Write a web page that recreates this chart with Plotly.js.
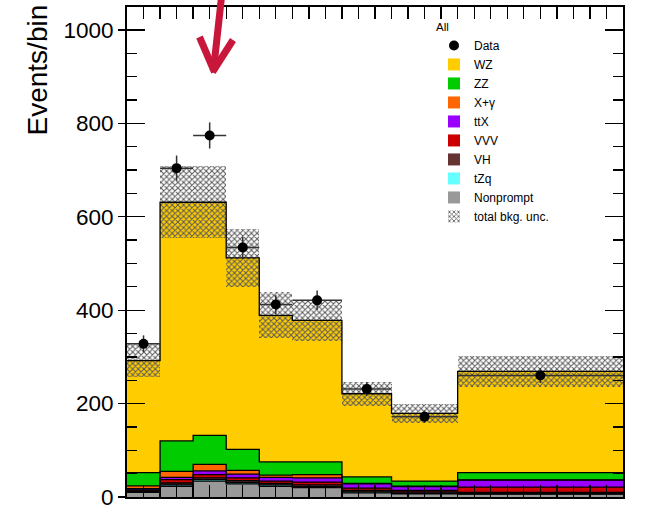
<!DOCTYPE html>
<html>
<head>
<meta charset="utf-8">
<script src="https://cdn.plot.ly/plotly-3.0.1.min.js"></script>
<style>
html,body{margin:0;padding:0;background:#fff;}
#chart{width:651px;height:516px;}
</style>
</head>
<body>
<div id="chart"></div>
<script>
// ---- data ----
const binEdges  = [0, 20, 40, 60, 80, 100, 130, 160, 200, 300];
const nonprompt = [10, 23, 34, 28, 23, 20, 9, 7, 6];
const tZq       = [1, 3, 3, 3, 3, 2, 2, 1, 1];
const VH        = [2, 4, 4, 4, 3, 4, 3, 3, 3];
const VVV       = [2, 7, 7, 6, 5, 6, 5, 3, 11];
const ttX       = [3, 5, 8, 8, 8, 9, 9, 8, 15];
const Xgamma    = [6, 13, 14, 8, 5, 7, 1, 1, 0.5];
const ZZ        = [28, 65, 62, 45, 28, 27, 14, 11, 15.5];
const WZ        = [240, 511, 499, 410, 314, 303, 178, 145, 217];
const dataY     = [328, 704, 774, 534, 412, 421, 231, 172, 260];
const dataErr   = [18, 27, 28, 23, 20, 21, 15, 13, 16];
const bkgUnc    = [36, 77, 77, 62, 49, 44, 26, 21, 33];

// stack from bottom to top
const components = [
  {name: 'Nonprompt', vals: nonprompt, color: '#999999', rank: 9},
  {name: 'tZq',       vals: tZq,       color: '#66ffff', rank: 8},
  {name: 'VH',        vals: VH,        color: '#663333', rank: 7},
  {name: 'VVV',       vals: VVV,       color: '#cc0000', rank: 6},
  {name: 'ttX',       vals: ttX,       color: '#9900ff', rank: 5},
  {name: 'X+\u03b3',  vals: Xgamma,    color: '#ff6600', rank: 4},
  {name: 'ZZ',        vals: ZZ,        color: '#00cc00', rank: 3},
  {name: 'WZ',        vals: WZ,        color: '#ffcc00', rank: 2}
];

const centers = [], widths = [];
for (let i = 0; i < binEdges.length - 1; i++) {
  centers.push((binEdges[i] + binEdges[i + 1]) / 2);
  widths.push(binEdges[i + 1] - binEdges[i]);
}
const halfW = widths.map(w => w / 2);

const traces = [];
const cum = new Array(centers.length).fill(0);
const stepTraces = [];
components.forEach(c => {
  traces.push({
    type: 'bar', x: centers, y: c.vals, width: widths, name: c.name,
    marker: {color: c.color, line: {width: 0}}, legendrank: c.rank,
    hoverinfo: 'skip'
  });
  for (let i = 0; i < cum.length; i++) cum[i] += c.vals[i];
  const ys = cum.slice(); ys.push(cum[cum.length - 1]);
  stepTraces.push({
    type: 'scatter', mode: 'lines', x: binEdges, y: ys,
    line: {shape: 'hv', color: '#000', width: 1.3},
    showlegend: false, hoverinfo: 'skip'
  });
});
const total = cum.slice();

traces.push({
  type: 'bar', x: centers, width: widths,
  base: total.map((t, i) => t - bkgUnc[i]),
  y: bkgUnc.map(u => 2 * u),
  name: 'total bkg. unc.', legendrank: 10,
  marker: {color: 'rgba(0,0,0,0)', line: {width: 0},
           pattern: {shape: 'x', fgcolor: '#5a5a5a', bgcolor: 'rgba(0,0,0,0)', size: 4, solidity: 0.45}},
  hoverinfo: 'skip'
});
stepTraces.forEach(t => traces.push(t));
traces.push({
  type: 'scatter', mode: 'markers', x: centers, y: dataY, name: 'Data', legendrank: 1,
  marker: {color: '#000', size: 10},
  error_y: {type: 'data', array: dataErr, visible: true, color: '#333', thickness: 1.5, width: 0},
  error_x: {type: 'data', array: halfW, visible: true, color: '#333', thickness: 1.5, width: 0}
});

// arrow (paper coordinates of the plot area: x 127..623, y 7..497)
const px = v => (v - 127) / 496;
const py = v => (497 - v) / 490;
const arrowColor = '#c8173a';
const shapes = [
  {type: 'line', xref: 'paper', yref: 'paper', x0: px(221.5), y0: py(-3), x1: px(213.5), y1: py(70), line: {color: arrowColor, width: 7}},
  {type: 'line', xref: 'paper', yref: 'paper', x0: px(199.5), y0: py(37), x1: px(214.5), y1: py(72), line: {color: arrowColor, width: 7}},
  {type: 'line', xref: 'paper', yref: 'paper', x0: px(233), y0: py(40), x1: px(212.5), y1: py(72), line: {color: arrowColor, width: 7}}
];

const font = 'Liberation Sans, Arial, Helvetica, sans-serif';
const layout = {
  width: 651, height: 516,
  margin: {l: 127, r: 28, t: 7, b: 19, pad: 0},
  paper_bgcolor: '#fff', plot_bgcolor: '#fff',
  font: {family: font, color: '#000'},
  barmode: 'stack', bargap: 0,
  showlegend: true,
  legend: {
    x: px(434), y: py(16), xanchor: 'left', yanchor: 'top',
    bgcolor: 'rgba(0,0,0,0)', borderwidth: 0,
    font: {family: font, size: 12, color: '#000'},
    title: {text: 'All', font: {family: font, size: 11.5, color: '#000'}},
    itemwidth: 30, traceorder: 'normal'
  },
  xaxis: {
    range: [binEdges[0], binEdges[binEdges.length - 1]],
    showgrid: false, zeroline: false, showticklabels: false,
    showline: true, linecolor: '#000', linewidth: 2, mirror: 'allticks',
    ticks: 'inside', ticklen: 12, tickwidth: 1.3, tickcolor: '#000', dtick: 50, tick0: 0,
    minor: {ticks: 'inside', ticklen: 6, tickwidth: 1.3, tickcolor: '#000', dtick: 10}
  },
  yaxis: {
    range: [0, 1049],
    showgrid: false, zeroline: false,
    showline: true, linecolor: '#000', linewidth: 2, mirror: true,
    ticks: 'outside', ticklen: 7, tickwidth: 1.3, tickcolor: '#000',
    dtick: 200, tick0: 0,
    tickfont: {family: font, size: 22.5, color: '#000'}
  },
  yaxis2: {
    overlaying: 'y', side: 'left', range: [0, 1049],
    showgrid: false, zeroline: false, showline: false, showticklabels: false,
    ticks: 'inside', ticklen: 18, tickwidth: 1.3, tickcolor: '#000', dtick: 200, tick0: 0,
    mirror: 'ticks',
    minor: {ticks: 'inside', ticklen: 10, tickwidth: 1.3, tickcolor: '#000', dtick: 50}
  },
  annotations: [{
    xref: 'paper', yref: 'paper', x: px(37), y: py(138),
    xanchor: 'center', yanchor: 'bottom', textangle: -90, showarrow: false,
    text: 'Events/bin', font: {family: font, size: 28, color: '#000'}
  }],
  shapes: shapes
};

// dummy trace carrying yaxis2 ticks
traces.push({type: 'scatter', mode: 'lines', x: [null], y: [null], yaxis: 'y2', showlegend: false, hoverinfo: 'skip'});

Plotly.newPlot('chart', traces, layout, {staticPlot: true, displayModeBar: false});
</script>
</body>
</html>
